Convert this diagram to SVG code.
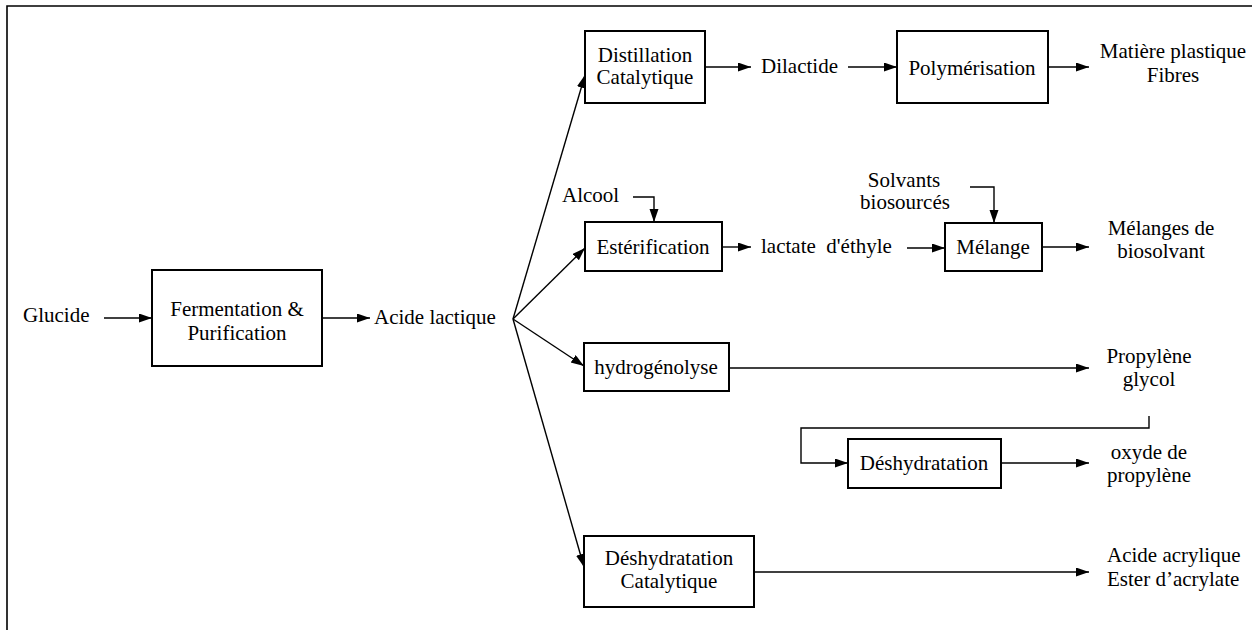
<svg xmlns="http://www.w3.org/2000/svg" width="1257" height="630" viewBox="0 0 1257 630">
<style>
text{font-family:"Liberation Serif","Times New Roman",serif;font-size:21px;fill:#000;white-space:pre}
.c{text-anchor:middle}
.box{fill:#fff;stroke:#000;stroke-width:2}
.ln{fill:none;stroke:#000;stroke-width:1.4}
.ar{marker-end:url(#ah)}
</style>
<defs>
<marker id="ah" markerUnits="userSpaceOnUse" markerWidth="14" markerHeight="10" refX="13" refY="4.5" orient="auto">
<path d="M0,0 L13,4.5 L0,9 z" fill="#000"/>
</marker>
</defs>
<rect width="1257" height="630" fill="#fff"/>
<path d="M7,630 V6 H1252" fill="none" stroke="#000" stroke-width="1.6"/>
<g id="connectors">
<path class="ln ar" d="M104,318 H152"/>
<path class="ln ar" d="M322,318 H370"/>
<path class="ln ar" d="M513,319 L585,75"/>
<path class="ln ar" d="M513,319 L585,248"/>
<path class="ln ar" d="M513,319 L584,366"/>
<path class="ln ar" d="M513,319 L584,567"/>
<path class="ln ar" d="M705,67 H751"/>
<path class="ln ar" d="M848,67 H897"/>
<path class="ln ar" d="M1048,67 H1089"/>
<path class="ln ar" d="M633,197 H654 V222"/>
<path class="ln ar" d="M722,247 H751"/>
<path class="ln ar" d="M907,248 H945"/>
<path class="ln ar" d="M970,187 H994 V223"/>
<path class="ln ar" d="M1042,247 H1089"/>
<path class="ln ar" d="M729,368 H1089"/>
<path class="ln ar" d="M1149,416 V428 H801 V463 H848"/>
<path class="ln ar" d="M1001,463 H1089"/>
<path class="ln ar" d="M754,572 H1089"/>
</g>
<g id="glucide"><text x="23" y="322">Glucide</text></g>
<g id="fermentation"><rect class="box" x="152" y="270" width="170" height="96"/><text class="c" x="237" y="316">Fermentation &amp;</text><text class="c" x="237" y="340">Purification</text></g>
<g id="acide-lactique"><text x="374" y="324">Acide lactique</text></g>
<g id="distillation"><rect class="box" x="585" y="31" width="120" height="72"/><text class="c" x="645" y="62">Distillation</text><text class="c" x="645" y="84">Catalytique</text></g>
<g id="dilactide"><text x="761" y="73">Dilactide</text></g>
<g id="polymerisation"><rect class="box" x="897" y="31" width="151" height="72"/><text class="c" x="972" y="75">Polymérisation</text></g>
<g id="matiere"><text class="c" x="1173" y="58">Matière plastique</text><text class="c" x="1173" y="82">Fibres</text></g>
<g id="alcool"><text x="562" y="202">Alcool</text></g>
<g id="esterification"><rect class="box" x="585" y="222" width="137" height="49"/><text class="c" x="653" y="254">Estérification</text></g>
<g id="lactate"><text x="761" y="253">lactate  d'éthyle</text></g>
<g id="solvants"><text class="c" x="904" y="187">Solvants</text><text class="c" x="905" y="209">biosourcés</text></g>
<g id="melange"><rect class="box" x="945" y="223" width="97" height="48"/><text class="c" x="993" y="254">Mélange</text></g>
<g id="melanges"><text class="c" x="1161" y="235">Mélanges de</text><text class="c" x="1161" y="258">biosolvant</text></g>
<g id="hydrogenolyse"><rect class="box" x="584" y="343" width="145" height="48"/><text class="c" x="656" y="374">hydrogénolyse</text></g>
<g id="propylene-glycol"><text class="c" x="1149" y="363">Propylène</text><text class="c" x="1149" y="386">glycol</text></g>
<g id="deshydratation"><rect class="box" x="848" y="439" width="153" height="49"/><text class="c" x="924" y="470">Déshydratation</text></g>
<g id="oxyde"><text class="c" x="1149" y="459">oxyde de</text><text class="c" x="1149" y="482">propylène</text></g>
<g id="deshydratation-cat"><rect class="box" x="584" y="536" width="170" height="71"/><text class="c" x="669" y="565">Déshydratation</text><text class="c" x="669" y="588">Catalytique</text></g>
<g id="acrylique"><text x="1107" y="562">Acide acrylique</text><text x="1107" y="586">Ester d’acrylate</text></g>
</svg>
